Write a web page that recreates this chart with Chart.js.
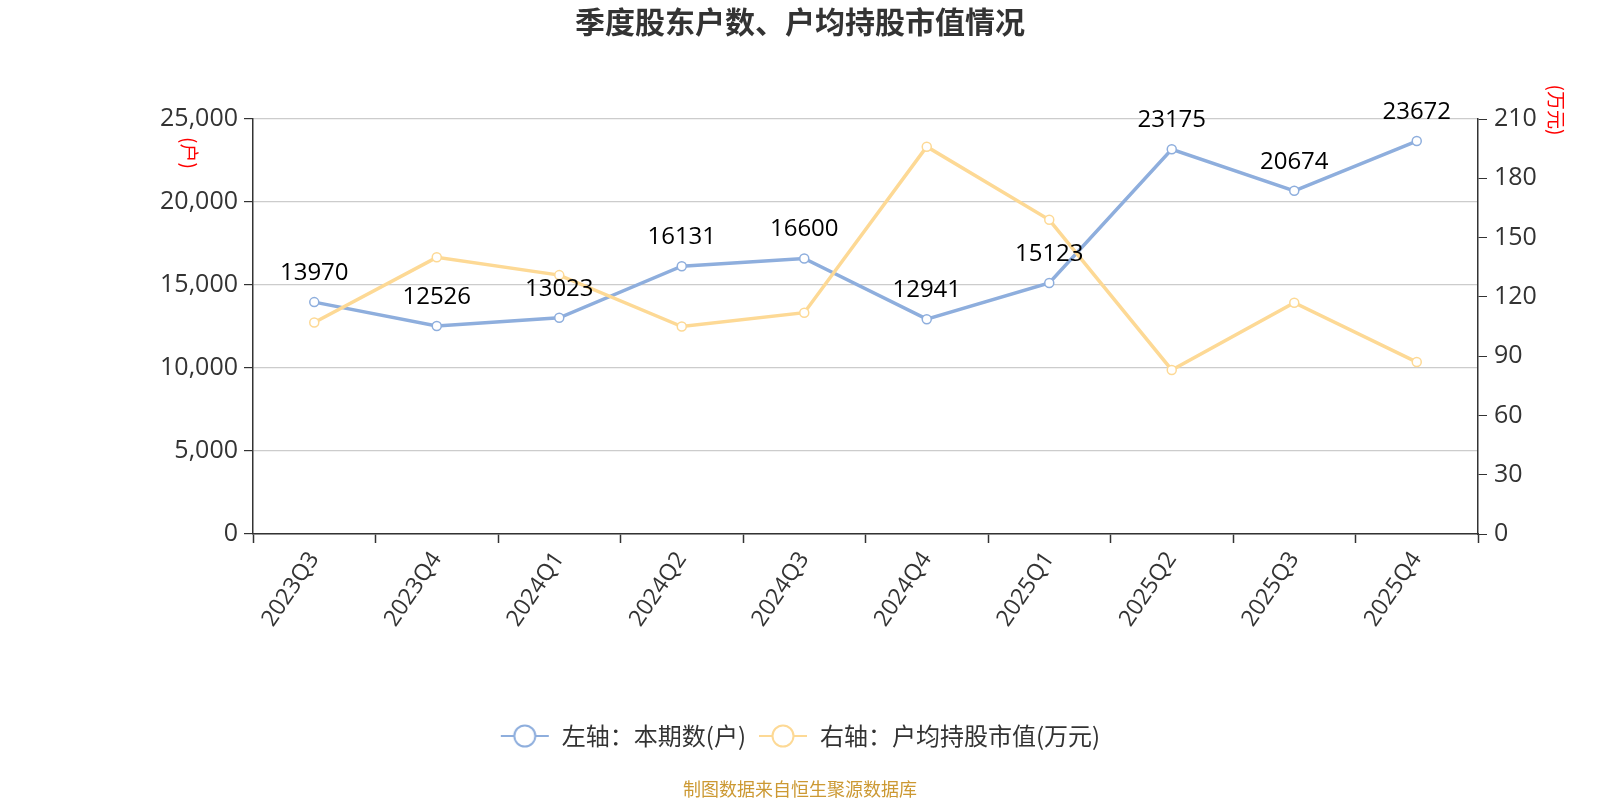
<!DOCTYPE html>
<html>
<head>
<meta charset="utf-8">
<script src="https://cdn.jsdelivr.net/npm/chart.js@4.4.1/dist/chart.umd.min.js"></script>
<style>
	html, body { margin: 0; padding: 0; background: #fff; }
	#wrap { width: 1600px; height: 800px; }
</style>
</head>
<body>
<div id="wrap"><canvas id="holders_chart" width="1600" height="800"></canvas></div>
<script>
const quarters = ['2023Q3', '2023Q4', '2024Q1', '2024Q2', '2024Q3', '2024Q4', '2025Q1', '2025Q2', '2025Q3', '2025Q4'];
const holderCounts = [13970, 12526, 13023, 16131, 16600, 12941, 15123, 23175, 20674, 23672];
const avgHoldingValue = [107, 140, 131, 105, 112, 196, 159, 83, 117, 87];
const leftTicks = [0, 5000, 10000, 15000, 20000, 25000];
const rightTicks = [0, 30, 60, 90, 120, 150, 180, 210];

const BLUE = '#8eaedd';
const YELLOW = '#fdd995';
const FONT = "'Open Sans', 'Noto Sans CJK SC', sans-serif";
const CJK = "'Noto Sans CJK SC', 'Open Sans', sans-serif";

// legend icon: short line with a hollow circle on it
function legendIcon(color) {
	const c = document.createElement('canvas');
	c.width = 50;
	c.height = 26;
	const g = c.getContext('2d');
	g.strokeStyle = color;
	g.lineWidth = 2;
	g.beginPath();
	g.moveTo(1, 13);
	g.lineTo(49, 13);
	g.stroke();
	g.beginPath();
	g.arc(25, 13, 10.5, 0, Math.PI * 2);
	g.fillStyle = '#fff';
	g.fill();
	g.stroke();
	return c;
}

const extras = {
	id: 'extras',
	afterDatasetsDraw(chart) {
		const ctx = chart.ctx;
		const meta = chart.getDatasetMeta(0);
		ctx.save();
		ctx.font = '24px ' + FONT;
		ctx.fillStyle = '#000';
		ctx.textAlign = 'center';
		ctx.textBaseline = 'middle';
		meta.data.forEach((pt, i) => {
			ctx.fillText(String(holderCounts[i]), pt.x, pt.y - 29);
		});
		ctx.restore();
	},
	afterDraw(chart) {
		const ctx = chart.ctx;
		// unit labels
		[['(户)', 189, 153], ['(万元)', 1556, 110]].forEach(([txt, x, y]) => {
			ctx.save();
			ctx.fillStyle = '#ff0000';
			ctx.font = '19px ' + CJK;
			ctx.textAlign = 'center';
			ctx.textBaseline = 'middle';
			ctx.translate(x, y);
			ctx.rotate(Math.PI / 2);
			ctx.fillText(txt, 0, 0);
			ctx.restore();
		});
		// source note
		ctx.save();
		ctx.fillStyle = '#cc9933';
		ctx.font = '18px ' + CJK;
		ctx.textAlign = 'center';
		ctx.textBaseline = 'middle';
		ctx.fillText('制图数据来自恒生聚源数据库', 800, 789);
		ctx.restore();
	}
};

new Chart(document.getElementById('holders_chart').getContext('2d'), {
	type: 'line',
	data: {
		labels: quarters,
		datasets: [
			{
				label: '左轴：本期数(户)',
				data: holderCounts,
				yAxisID: 'y',
				borderColor: BLUE,
				backgroundColor: '#fff',
				borderWidth: 3.5,
				pointRadius: 4.5,
				pointBorderWidth: 1.5,
				pointBorderColor: BLUE,
				pointBackgroundColor: '#fff',
				tension: 0,
				order: 1
			},
			{
				label: '右轴：户均持股市值(万元)',
				data: avgHoldingValue,
				yAxisID: 'y1',
				borderColor: YELLOW,
				backgroundColor: '#fff',
				borderWidth: 3.5,
				pointRadius: 4.5,
				pointBorderWidth: 1.5,
				pointBorderColor: YELLOW,
				pointBackgroundColor: '#fff',
				tension: 0,
				order: 0
			}
		]
	},
	options: {
		responsive: false,
		animation: false,
		layout: { padding: { top: 0, left: 0, right: 0, bottom: 42 } },
		plugins: {
			title: {
				display: true,
				text: '季度股东户数、户均持股市值情况',
				color: '#333',
				font: { size: 30, weight: 'bold', family: CJK },
				padding: { top: 4, bottom: 79 }
			},
			legend: {
				position: 'bottom',
				labels: {
					usePointStyle: true,
					pointStyleWidth: 50,
					boxHeight: 24,
					padding: 12,
					color: '#333',
					font: { size: 24, family: CJK },
					generateLabels(chart) {
						return chart.data.datasets.map((ds, i) => ({
							text: ds.label,
							pointStyle: legendIcon(ds.borderColor),
							fillStyle: '#fff',
							strokeStyle: ds.borderColor,
							lineWidth: 0,
							hidden: false,
							datasetIndex: i,
							fontColor: '#333'
						}));
					}
				}
			},
			tooltip: { enabled: false }
		},
		scales: {
			x: {
				offset: true,
				afterFit(scale) { scale.height = 178; },
				border: { color: '#333', width: 1.5 },
				grid: { offset: true, drawOnChartArea: false, tickLength: 9, tickColor: '#333', tickWidth: 1.5 },
				ticks: {
					color: '#333',
					font: { size: 23, family: FONT },
					minRotation: 56,
					maxRotation: 56,
					padding: 4
				}
			},
			y: {
				position: 'left',
				min: 0,
				max: 25000,
				afterFit(scale) { scale.width = 253; },
				afterBuildTicks(scale) { scale.ticks = leftTicks.map(v => ({ value: v })); },
				border: { color: '#333', width: 1.5 },
				grid: { color: '#cccccc', lineWidth: 1.2, tickLength: 9, tickColor: '#333' },
				ticks: {
					color: '#333',
					padding: 6,
					font: { size: 25, family: FONT },
					callback: v => v.toLocaleString('en-US')
				}
			},
			y1: {
				position: 'right',
				min: 0,
				max: 210,
				afterFit(scale) { scale.width = 122; },
				afterBuildTicks(scale) { scale.ticks = rightTicks.map(v => ({ value: v })); },
				border: { color: '#333', width: 1.5 },
				grid: { drawOnChartArea: false, tickLength: 9, tickColor: '#333' },
				ticks: {
					color: '#333',
					padding: 7,
					font: { size: 25, family: FONT }
				}
			}
		}
	},
	plugins: [extras]
});
</script>
</body>
</html>
